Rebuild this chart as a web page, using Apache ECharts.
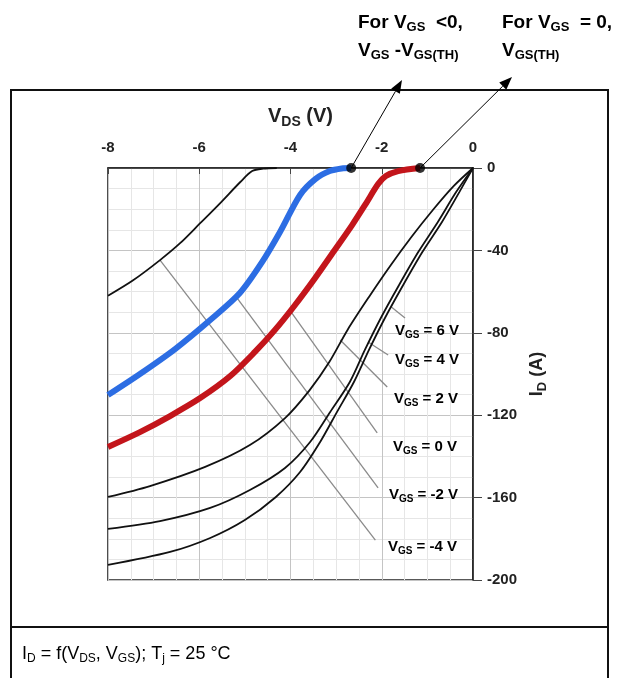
<!DOCTYPE html>
<html>
<head>
<meta charset="utf-8">
<script src="https://cdn.jsdelivr.net/npm/echarts@6/dist/echarts.min.js"></script>
<style>
  html, body { margin: 0; padding: 0; background: #fff; }
  #main { width: 619px; height: 678px; }
</style>
</head>
<body>
<div id="main"></div>
<script>
// axis ranges
const vdsMin = -8, vdsMax = 0, vdsStep = 2;
const idMin = -200, idMax = 0, idStep = 40;

// V_GS = -4 V (thin black, top left)
const vgsM4V = [-8, -7.45, -6.86, -6.42, -5.98, -5.54, -5.1, -4.84, -4.6, -4.3];
const vgsM4I = [-62, -54.5, -44.7, -36.5, -26.8, -17, -6.8, -1.5, -0.3, 0];
// V_GS = -2 V (blue)
const vgsM2V = [-8, -7.30, -6.53, -5.76, -5.11, -4.62, -4.23, -3.79, -3.45, -3.14, -2.88, -2.67];
const vgsM2I = [-110.2, -100, -87.9, -73.8, -60.7, -45.6, -31.1, -13.1, -5.3, -1.5, -0.2, 0];
// V_GS = 0 V (red)
const vgs0V = [-8, -7.30, -6.64, -5.98, -5.32, -4.78, -4.34, -3.90, -3.46, -3.03, -2.65, -2.34, -2.08, -1.91, -1.64, -1.16];
const vgs0I = [-135.4, -128.2, -120.4, -111.7, -101, -89.3, -78.6, -66.5, -53.4, -39.8, -27.7, -17, -7.8, -3.9, -1.5, 0];
// V_GS = 2 V
const vgs2V = [-8, -7.08, -5.87, -4.89, -4.12, -3.58, -3.15, -2.75, -2.28, -1.80, -1.35, -0.88, -0.42, 0];
const vgs2I = [-159.7, -154.4, -145.1, -134.5, -121.4, -107.8, -94.2, -78.6, -62.6, -47.1, -33.5, -20.4, -8.7, 0];
// V_GS = 4 V
const vgs4V = [-8, -6.86, -5.76, -4.89, -4.12, -3.57, -3.13, -2.70, -2.37, -2.02, -1.62, -1.20, -0.77, -0.37, 0];
const vgs4I = [-175.2, -171.4, -165, -156.3, -145.6, -133, -118.4, -103.9, -88.3, -72.8, -56.8, -40.8, -26.2, -11.7, 0];
// V_GS = 6 V
const vgs6V = [-8, -6.64, -5.76, -5.00, -4.32, -3.79, -3.35, -2.98, -2.61, -2.28, -1.93, -1.53, -1.11, -0.68, -0.30, 0];
const vgs6I = [-192.7, -186.4, -179.6, -170.9, -159.7, -147.6, -133, -118.4, -103.9, -88.3, -72.8, -56.8, -40.8, -26.2, -11.7, 0];

// leader lines from curves to the V_GS labels: [V1, I1, V2, I2]
const leaderNames = ['6 V', '4 V', '2 V', '0 V', '-2 V', '-4 V'];
const leaders = [
  [-1.79, -67.5, -1.49, -72.8],
  [-2.30, -84.5, -1.86, -90.8],
  [-2.91, -83.5, -1.88, -106.3],
  [-4.02, -68.9, -2.1, -128.6],
  [-5.19, -62.6, -2.08, -155.3],
  [-6.86, -44.7, -2.14, -180.6]
];
// label pixel anchors (left, middle)
const labelX = [395, 395, 394, 393, 389, 388];
const labelY = [331, 360, 399, 447, 495, 547];

// threshold dots
const dotV = [-2.67, -1.16];
const dotI = [0, 0];
const arrowEnd = [[402, 80], [512, 77]];

const zip = (a, b) => a.map((v, i) => [v, b[i]]);

const chart = echarts.init(document.getElementById('main'));

const font = 'Arial, "Liberation Sans", sans-serif';
const subRich = (size, color) => ({
  n: { fontSize: size, fontWeight: 'bold', color: color, fontFamily: font },
  s: { fontSize: Math.round(size * 0.7), fontWeight: 'bold', color: color, fontFamily: font, padding: [Math.round(size * 0.55), 0, 0, 0] }
});

function curve(name, v, i, color, width) {
  return {
    name: name, type: 'line', data: zip(v, i), smooth: 0.3,
    showSymbol: false, clip: false,
    lineStyle: { color: color, width: width },
    z: width > 3 ? 4 : 3
  };
}

const series = [
  curve('-4', vgsM4V, vgsM4I, '#111', 1.8),
  curve('2', vgs2V, vgs2I, '#111', 1.8),
  curve('4', vgs4V, vgs4I, '#111', 1.8),
  curve('6', vgs6V, vgs6I, '#111', 1.8),
  curve('-2', vgsM2V, vgsM2I, '#2c6de3', 6),
  curve('0', vgs0V, vgs0I, '#c3151b', 6)
];
leaders.forEach((l, k) => {
  series.push({
    name: 'leader ' + leaderNames[k], type: 'line', data: [[l[0], l[1]], [l[2], l[3]]],
    showSymbol: false, silent: true, lineStyle: { color: '#8a8a8a', width: 1.3 }, z: 2
  });
});
series.push({
  name: 'dots', type: 'scatter', data: zip(dotV, dotI), symbolSize: 10, clip: false,
  itemStyle: { color: '#000' }, z: 6
});

chart.setOption({
  animation: false,
  backgroundColor: '#fff',
  grid: { left: 108, top: 168, width: 365, height: 412, show: true, borderColor: '#222', borderWidth: 1.6 },
  xAxis: {
    type: 'value', position: 'top', min: vdsMin, max: vdsMax, interval: vdsStep,
    name: '{n|V}{s|DS}{n| (V)}', nameLocation: 'middle', nameGap: 39,
    nameTextStyle: { rich: subRich(20, '#222'), padding: [0, 0, 0, 20] },
    axisLine: { show: true, lineStyle: { color: '#222', width: 1.6 } },
    axisTick: { show: true, inside: true, length: 6, lineStyle: { color: '#444' } },
    axisLabel: { margin: 13, fontSize: 15, fontWeight: 'bold', color: '#222', fontFamily: font },
    splitLine: { show: true, lineStyle: { color: '#c4c4c4', width: 1 } },
    minorTick: { show: false, splitNumber: 4 },
    minorSplitLine: { show: true, lineStyle: { color: '#e6e6e6', width: 1 } }
  },
  yAxis: {
    type: 'value', position: 'right', min: idMin, max: idMax, interval: idStep,
    name: '{n|I}{s|D}{n| (A)}', nameLocation: 'middle', nameGap: 50, nameRotate: 90,
    nameTextStyle: { rich: subRich(18, '#222') },
    axisLine: { show: true, lineStyle: { color: '#222', width: 1.6 } },
    axisTick: { show: true, length: 9, lineStyle: { color: '#444' } },
    axisLabel: { margin: 14, fontSize: 15, fontWeight: 'bold', color: '#222', fontFamily: font },
    splitLine: { show: true, lineStyle: { color: '#c4c4c4', width: 1 } },
    minorTick: { show: false, splitNumber: 4 },
    minorSplitLine: { show: true, lineStyle: { color: '#e6e6e6', width: 1 } }
  },
  series: series
});

// frame, annotations, arrows and V_GS labels
const g = [];
const frame = { stroke: '#111', lineWidth: 2 };
g.push({ type: 'line', shape: { x1: 11, y1: 90, x2: 608, y2: 90 }, style: frame });
g.push({ type: 'line', shape: { x1: 11, y1: 89, x2: 11, y2: 678 }, style: frame });
g.push({ type: 'line', shape: { x1: 608, y1: 89, x2: 608, y2: 678 }, style: frame });
g.push({ type: 'line', shape: { x1: 11, y1: 627, x2: 608, y2: 627 }, style: frame });

g.push({
  type: 'text', left: 22, top: 645,
  style: { text: '{n|I}{s|D}{n| = f(V}{s|DS}{n|, V}{s|GS}{n|); T}{s|j}{n| = 25 °C}', rich: {
    n: { fontSize: 18, color: '#222', fontFamily: font },
    s: { fontSize: 12, color: '#222', fontFamily: font, padding: [9, 0, 0, 0] }
  } }
});

const blueRich = subRich(19, '#3a70d6');
const redRich = subRich(19, '#b5171d');
g.push({ type: 'text', left: 358, top: 13, style: { text: '{n|For V}{s|GS}{n|  <0,}', rich: blueRich } });
g.push({ type: 'text', left: 358, top: 41, style: { text: '{n|V}{s|GS}{n| -V}{s|GS(TH)}', rich: blueRich } });
g.push({ type: 'text', left: 502, top: 13, style: { text: '{n|For V}{s|GS}{n|  = 0,}', rich: redRich } });
g.push({ type: 'text', left: 502, top: 41, style: { text: '{n|V}{s|GS(TH)}', rich: redRich } });

dotV.forEach((v, k) => {
  const p = chart.convertToPixel({ gridIndex: 0 }, [v, dotI[k]]);
  const e = arrowEnd[k];
  const ang = Math.atan2(e[1] - p[1], e[0] - p[0]);
  const L = 13, W = 5;
  const bx = e[0] - L * Math.cos(ang), by = e[1] - L * Math.sin(ang);
  g.push({ type: 'line', shape: { x1: p[0], y1: p[1], x2: bx, y2: by }, style: { stroke: '#000', lineWidth: 1 }, z: 10 });
  g.push({
    type: 'polygon', z: 10,
    shape: { points: [e, [bx - W * Math.sin(ang), by + W * Math.cos(ang)], [bx + W * Math.sin(ang), by - W * Math.cos(ang)]] },
    style: { fill: '#000' }
  });
});

const labRich = {
  n: { fontSize: 15, fontWeight: 'bold', color: '#222', fontFamily: font },
  s: { fontSize: 10, fontWeight: 'bold', color: '#222', fontFamily: font, padding: [9, 0, 0, 0] }
};
leaderNames.forEach((nm, k) => {
  g.push({
    type: 'text', x: labelX[k], y: labelY[k], z: 10,
    style: { text: '{n|V}{s|GS}{n| = ' + nm + '}', rich: labRich, verticalAlign: 'middle' }
  });
});

chart.setOption({ graphic: g });
</script>
</body>
</html>
